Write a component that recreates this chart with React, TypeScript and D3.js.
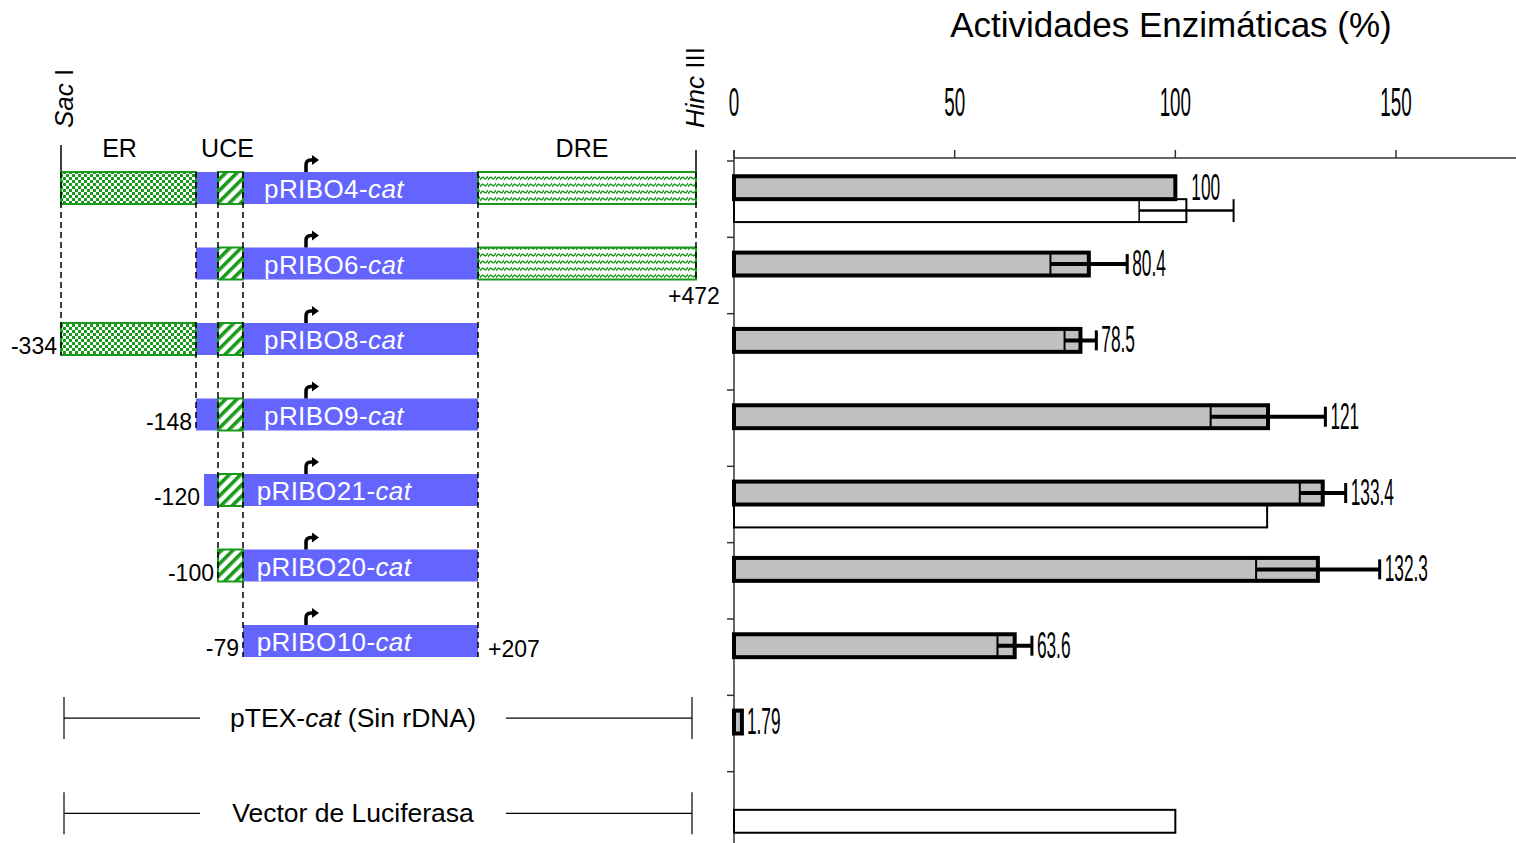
import React from 'react'
import * as d3 from 'd3'

// actividades (%) -- barras grises: CAT, barras blancas: luciferasa
const categories = ['pRIBO4', 'pRIBO6', 'pRIBO8', 'pRIBO9', 'pRIBO21', 'pRIBO20', 'pRIBO10', 'pTEX', 'Luciferasa']
const catActivity = [100, 80.4, 78.5, 121, 133.4, 132.3, 63.6, 1.79, NaN]
const catError = [0, 8.7, 3.6, 13, 5.2, 14, 3.9, 0, 0]
const lucActivity = [102.5, NaN, NaN, NaN, 120.8, NaN, NaN, NaN, 100]
const lucError = [10.7, 0, 0, 0, 0, 0, 0, 0, 0]
const xTicks = [0, 50, 100, 150]

// mapa de las construcciones (posiciones respecto al inicio de transcripcion)
const constructs = ['pRIBO4', 'pRIBO6', 'pRIBO8', 'pRIBO9', 'pRIBO21', 'pRIBO20', 'pRIBO10']
const constructStart = [-334, -148, -334, -148, -120, -100, -79]
const constructEnd = [472, 472, 207, 207, 207, 207, 207]
const mapPositions = [-334, -148, -120, -100, -79, 207, 472]
const dashedPositions = [-334, -148, -100, -79, 207, 472]
const posLabelRows = ['pRIBO8', 'pRIBO9', 'pRIBO21', 'pRIBO20', 'pRIBO10']
const posLabelValues = [-334, -148, -120, -100, -79]

const W = 1516
const H = 843
const FONT = 'Liberation Sans, Arial, sans-serif'
const BLUE = '#6464ff'
const GREEN = '#1a9a1a'

export default function App() {
  // grafico de barras
  const x = d3.scaleLinear().domain([0, 150]).range([734, 1396])
  const y = d3.scaleBand().domain(categories).range([161, 848]).paddingInner(0.4).paddingOuter(0.2)
  const sub = d3.scaleBand().domain(['cat', 'luc']).range([0, y.bandwidth()])
  const bw = sub.bandwidth()
  const step = y.step()

  // mapa esquematico (no lineal)
  const mx = d3.scaleLinear().domain(mapPositions).range([61, 196, 204, 218, 243, 478, 696])
  const row = d3.scalePoint().domain(constructs).range([172, 625])
  const rowH = 32
  const lastRow = (p: number) => {
    let last = constructs[0]
    constructs.forEach((c, i) => {
      if (constructStart[i] <= p && constructEnd[i] >= p) last = c
    })
    return last
  }

  const narrow = (tx: number, ty: number, s: number) => `translate(${tx},${ty}) scale(${s},1)`

  const bracketRows = [
    { label: <>pTEX-<tspan fontStyle="italic">cat</tspan> (Sin rDNA)</>, cy: y('pTEX')! + sub('cat')! + bw / 2 - 4 },
    { label: <>Vector de Luciferasa</>, cy: y('Luciferasa')! + sub('luc')! + bw / 2 - 8 },
  ]

  return (
    <svg width={W} height={H} style={{ position: 'absolute', left: 0, top: 0, background: '#fff' }} fontFamily={FONT}>
      <defs>
        <pattern id="er" width="6" height="6" patternUnits="userSpaceOnUse">
          <rect width="6" height="6" fill="#fff" />
          <rect width="3" height="3" fill={GREEN} />
          <rect x="3" y="3" width="3" height="3" fill={GREEN} />
        </pattern>
        <pattern id="uce" width="8" height="8" patternUnits="userSpaceOnUse" patternTransform="rotate(45)">
          <rect width="8" height="8" fill="#fff" />
          <rect width="3.6" height="8" fill={GREEN} />
        </pattern>
        <pattern id="dre" width="8" height="7" patternUnits="userSpaceOnUse">
          <rect width="8" height="7" fill="#fff" />
          <path d="M0 5 Q2 1 4 3 T8 1" fill="none" stroke={GREEN} strokeWidth="1.4" />
          <path d="M0 5 Q2 5 4 3 Q6 1 8 5" fill="none" stroke={GREEN} strokeWidth="0" />
        </pattern>
      </defs>

      {/* ---------- mapa ---------- */}
      <text transform="translate(73,128) rotate(-90)" fontSize="26">
        <tspan fontStyle="italic">Sac</tspan> I
      </text>
      <text transform="translate(704,128) rotate(-90)" fontSize="26">
        <tspan fontStyle="italic">Hinc</tspan> III
      </text>
      <line x1={mx(-334)} x2={mx(-334)} y1={145} y2={row('pRIBO4')!} stroke="#000" strokeWidth="1.5" />
      <line x1={mx(472)} x2={mx(472)} y1={150} y2={row('pRIBO4')!} stroke="#000" strokeWidth="1.5" />
      <text x={(mx(-334) + mx(-148)) / 2 - 9} y={157} fontSize="25" textAnchor="middle">ER</text>
      <text x={(mx(-100) + mx(-79)) / 2 - 3} y={157} fontSize="25" textAnchor="middle">UCE</text>
      <text x={(mx(207) + mx(472)) / 2 - 5} y={157} fontSize="25" textAnchor="middle">DRE</text>

      {constructs.map((c, i) => {
        const top = row(c)!
        const s = constructStart[i]
        const e = constructEnd[i]
        const blueStart = Math.max(s, -148)
        return (
          <g key={c}>
            <rect x={mx(blueStart)} y={top} width={mx(Math.min(e, 207)) - mx(blueStart)} height={rowH} fill={BLUE} />
            {s <= -334 && (
              <rect x={mx(-334)} y={top} width={mx(-148) - mx(-334)} height={rowH} fill="url(#er)" stroke={GREEN} strokeWidth="2" />
            )}
            {s <= -100 && (
              <rect x={mx(-100)} y={top} width={mx(-79) - mx(-100)} height={rowH} fill="url(#uce)" stroke={GREEN} strokeWidth="2" />
            )}
            {e >= 472 && (
              <rect x={mx(207)} y={top} width={mx(472) - mx(207)} height={rowH} fill="url(#dre)" stroke={GREEN} strokeWidth="2" />
            )}
            <text x={334} y={top + 26} fontSize="26" letterSpacing="0.4" fill="#fff" textAnchor="middle">
              {c}-<tspan fontStyle="italic">cat</tspan>
            </text>
            <path
              d={`M${306} ${top} V${top - 7} Q${306} ${top - 12} ${311} ${top - 12} H${313}`}
              fill="none"
              stroke="#000"
              strokeWidth="3.5"
            />
            <path d={`M${312} ${top - 17} L${319} ${top - 12} L${312} ${top - 7} Z`} fill="#000" />
          </g>
        )
      })}

      {dashedPositions.map(p => (
        <line
          key={p}
          x1={mx(p)}
          x2={mx(p)}
          y1={row('pRIBO4')!}
          y2={row(lastRow(p))! + rowH}
          stroke="#000"
          strokeWidth="1.5"
          strokeDasharray="6 4"
        />
      ))}

      {posLabelRows.map((r, i) => (
        <text key={r} x={mx(posLabelValues[i]) - 4} y={row(r)! + rowH - 1} fontSize="23" textAnchor="end">
          {posLabelValues[i]}
        </text>
      ))}
      <text x={mx(207) + 10} y={row('pRIBO10')! + rowH} fontSize="23">+207</text>
      <text x={mx(472) - 2} y={row('pRIBO6')! + rowH + 24} fontSize="23" textAnchor="middle">+472</text>

      {bracketRows.map((b, i) => (
        <g key={i}>
          <line x1={64} x2={64} y1={b.cy - 21} y2={b.cy + 21} stroke="#000" strokeWidth="1.2" />
          <line x1={692} x2={692} y1={b.cy - 21} y2={b.cy + 21} stroke="#000" strokeWidth="1.2" />
          <line x1={64} x2={200} y1={b.cy} y2={b.cy} stroke="#000" strokeWidth="1.2" />
          <line x1={506} x2={692} y1={b.cy} y2={b.cy} stroke="#000" strokeWidth="1.2" />
          <text x={353} y={b.cy + 9} fontSize="26.5" textAnchor="middle">{b.label}</text>
        </g>
      ))}

      {/* ---------- grafico ---------- */}
      <text x={1171} y={37} fontSize="35" textAnchor="middle">Actividades Enzimáticas (%)</text>

      <line x1={x(0)} x2={W} y1={158} y2={158} stroke="#333" strokeWidth="1.5" />
      {xTicks.map(t => (
        <g key={t}>
          <line x1={x(t)} x2={x(t)} y1={150} y2={158} stroke="#333" strokeWidth="1.5" />
          <text transform={narrow(x(t), 116, 0.47)} fontSize="40" textAnchor="middle">{t}</text>
        </g>
      ))}
      <line x1={x(0)} x2={x(0)} y1={150} y2={H} stroke="#333" strokeWidth="1.5" />
      {categories.map(c => (
        <line key={c} x1={x(0) - 7} x2={x(0)} y1={y(c)! - step * 0.2} y2={y(c)! - step * 0.2} stroke="#333" strokeWidth="1.5" />
      ))}

      {categories.map((c, i) => {
        const v = lucActivity[i]
        if (isNaN(v)) return null
        const top = y(c)! + sub('luc')!
        const cy = top + bw / 2
        const e = lucError[i]
        return (
          <g key={c}>
            <rect x={x(0)} y={top} width={x(v) - x(0)} height={bw} fill="#fff" stroke="#000" strokeWidth="2" />
            {e > 0 && (
              <g stroke="#000">
                <line x1={x(v - e)} x2={x(v + e)} y1={cy} y2={cy} strokeWidth="2.5" />
                <line x1={x(v - e)} x2={x(v - e)} y1={top} y2={top + bw} strokeWidth="1.5" />
                <line x1={x(v + e)} x2={x(v + e)} y1={top} y2={top + bw} strokeWidth="2" />
              </g>
            )}
          </g>
        )
      })}

      {categories.map((c, i) => {
        const v = catActivity[i]
        if (isNaN(v)) return null
        const top = y(c)! + sub('cat')!
        const cy = top + bw / 2
        const e = catError[i]
        const labelAt = Math.max(v + e, isNaN(lucActivity[i]) ? 0 : lucActivity[i])
        return (
          <g key={c}>
            <rect x={x(0)} y={top} width={x(v) - x(0)} height={bw} fill="#c0c0c0" stroke="#000" strokeWidth="4" />
            {e > 0 && (
              <g stroke="#000">
                <line x1={x(v - e)} x2={x(v + e)} y1={cy} y2={cy} strokeWidth="4" />
                <line x1={x(v - e)} x2={x(v - e)} y1={top} y2={top + bw} strokeWidth="2" />
                <line x1={x(v + e)} x2={x(v + e)} y1={cy - 10} y2={cy + 10} strokeWidth="3" />
              </g>
            )}
            <text transform={narrow(x(labelAt) + 5, cy + 12, 0.48)} fontSize="36">{v}</text>
          </g>
        )
      })}
    </svg>
  )
}
